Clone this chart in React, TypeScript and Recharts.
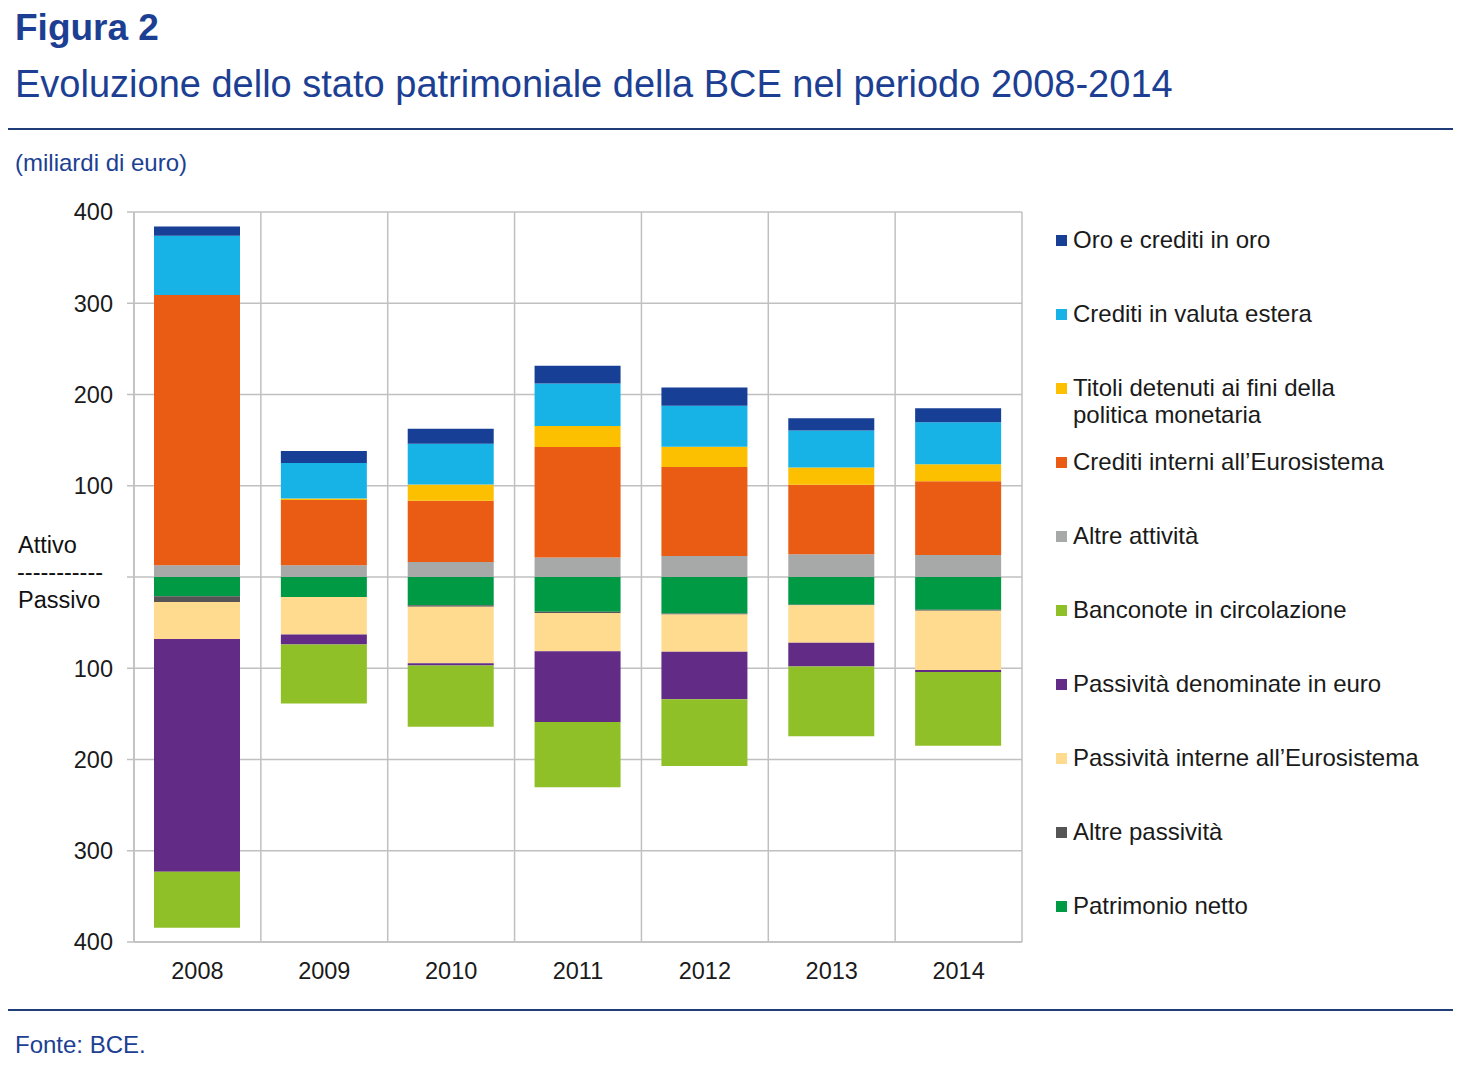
import React from "react";
import { BarChart, Bar, XAxis, YAxis, CartesianGrid } from "recharts";

// miliardi di euro
const years = ["2008", "2009", "2010", "2011", "2012", "2013", "2014"];

// Attivo (positive, stacked upward from zero)
const altreAttivita = [13, 13, 16.5, 21.5, 23, 25, 24];
const creditiInterni = [296, 71.5, 67, 121, 97.5, 76, 81];
const titoli = [0, 1.5, 18, 23, 22.3, 19, 18.6];
const valutaEstera = [65, 39, 44.5, 46.5, 45, 40.5, 46];
const oro = [10, 13, 16.5, 19.5, 20, 13.5, 15.3];

// Passivo (stacked downward from zero)
const patrimonioNetto = [21, 22, 31, 38, 40, 30.5, 36];
const altrePassivita = [6.5, 0, 1.5, 1.5, 1, 0.5, 1];
const passivitaInterne = [40.5, 41, 62, 42, 41, 41, 65];
const passivitaEuro = [255, 11, 2.5, 77.5, 52, 26, 2];
const banconote = [61.5, 64.5, 67, 71.5, 73, 76.5, 81];

const yTicks = [-400, -300, -200, -100, 0, 100, 200, 300, 400];

const FONT = "'Liberation Sans', Arial, sans-serif";
const BLUE = "#1d3f93";
const GRID = "#c0c0c0";

// stacking order (first = closest to zero)
const series = [
  { key: "altreAttivita", name: "Altre attività", color: "#a7a9a9", values: altreAttivita, sign: 1 },
  { key: "creditiInterni", name: "Crediti interni all\u2019Eurosistema", color: "#ea5b13", values: creditiInterni, sign: 1 },
  { key: "titoli", name: "Titoli detenuti ai fini della politica monetaria", color: "#fdc001", values: titoli, sign: 1 },
  { key: "valutaEstera", name: "Crediti in valuta estera", color: "#17b3e7", values: valutaEstera, sign: 1 },
  { key: "oro", name: "Oro e crediti in oro", color: "#173f95", values: oro, sign: 1 },
  { key: "patrimonioNetto", name: "Patrimonio netto", color: "#009a45", values: patrimonioNetto, sign: -1 },
  { key: "altrePassivita", name: "Altre passività", color: "#555555", values: altrePassivita, sign: -1 },
  { key: "passivitaInterne", name: "Passività interne all\u2019Eurosistema", color: "#fedb8f", values: passivitaInterne, sign: -1 },
  { key: "passivitaEuro", name: "Passività denominate in euro", color: "#622b86", values: passivitaEuro, sign: -1 },
  { key: "banconote", name: "Banconote in circolazione", color: "#8fc027", values: banconote, sign: -1 },
];

const legendOrder = [
  "oro", "valutaEstera", "titoli", "creditiInterni", "altreAttivita",
  "banconote", "passivitaEuro", "passivitaInterne", "altrePassivita", "patrimonioNetto",
];

const data = years.map((year, i) => {
  const row: Record<string, string | number> = { year };
  series.forEach((s) => {
    row[s.key] = s.sign * s.values[i];
  });
  return row;
});

const text = (extra: React.CSSProperties): React.CSSProperties => ({
  position: "absolute",
  fontFamily: FONT,
  whiteSpace: "nowrap",
  margin: 0,
  ...extra,
});

export default function App() {
  return (
    <div style={{ position: "absolute", left: 0, top: 0, width: 1483, height: 1068, background: "#fff", fontFamily: FONT }}>
      <div style={text({ left: 15, top: 6, fontSize: 37, fontWeight: 700, color: BLUE, lineHeight: "44px" })}>Figura 2</div>
      <div style={text({ left: 15, top: 61, fontSize: 38, color: BLUE, lineHeight: "46px" })}>
        Evoluzione dello stato patrimoniale della BCE nel periodo 2008-2014
      </div>
      <div style={{ position: "absolute", left: 8, top: 128, width: 1445, height: 2, background: "#1f3d78" }} />
      <div style={text({ left: 15, top: 149, fontSize: 24, color: BLUE, lineHeight: "28px" })}>(miliardi di euro)</div>

      <BarChart
        width={1040}
        height={1000}
        data={data}
        stackOffset="sign"
        margin={{ top: 212, right: 18, bottom: 28, left: 0 }}
        style={{ position: "absolute", left: 0, top: 0 }}
      >
        <CartesianGrid
          stroke={GRID}
          strokeWidth={1.5}
          verticalCoordinatesGenerator={({ offset }: any) =>
            Array.from({ length: years.length + 1 }, (_, i) => offset.left + (offset.width * i) / years.length)
          }
        />
        <XAxis
          dataKey="year"
          height={30}
          tickLine={false}
          tickMargin={14}
          axisLine={{ stroke: GRID, strokeWidth: 1.5 }}
          tick={{ fill: "#1a1a1a", fontSize: 23.5, fontFamily: FONT }}
        />
        <YAxis
          width={134}
          domain={[-400, 400]}
          ticks={yTicks}
          interval={0}
          tickSize={7}
          tickMargin={14}
          tickFormatter={(v: number) => (v === 0 ? "" : String(Math.abs(v)))}
          axisLine={{ stroke: GRID, strokeWidth: 1.5 }}
          tickLine={{ stroke: GRID, strokeWidth: 1.5 }}
          tick={{ fill: "#1a1a1a", fontSize: 23.5, fontFamily: FONT }}
        />
        {series.map((s) => (
          <Bar key={s.key} dataKey={s.key} name={s.name} stackId="bs" fill={s.color} barSize={86} isAnimationActive={false} />
        ))}
      </BarChart>

      <div style={text({ left: 18, top: 531, fontSize: 23.5, color: "#111", lineHeight: "28px" })}>Attivo</div>
      <div style={text({ left: 17, top: 558, fontSize: 23.5, color: "#111", lineHeight: "28px" })}>-----------</div>
      <div style={text({ left: 18, top: 586, fontSize: 23.5, color: "#111", lineHeight: "28px" })}>Passivo</div>

      {legendOrder.map((k, i) => {
        const s = series.find((x) => x.key === k)!;
        const wrap = s.key === "titoli";
        return (
          <div key={k} style={{ position: "absolute", left: 1056, top: 240 + i * 74 - 14, display: "flex", alignItems: "flex-start" }}>
            <div style={{ width: 11, height: 11, background: s.color, marginTop: 9, marginRight: 6 }} />
            <div style={{ fontFamily: FONT, fontSize: 24, lineHeight: "27px", color: "#1a1a1a", width: wrap ? 300 : 400 }}>
              {wrap ? (
                <>
                  Titoli detenuti ai fini della
                  <br />
                  politica monetaria
                </>
              ) : (
                s.name
              )}
            </div>
          </div>
        );
      })}

      <div style={{ position: "absolute", left: 8, top: 1009, width: 1445, height: 2, background: "#1f3d78" }} />
      <div style={text({ left: 15, top: 1031, fontSize: 24, color: BLUE, lineHeight: "28px" })}>Fonte: BCE.</div>
    </div>
  );
}
